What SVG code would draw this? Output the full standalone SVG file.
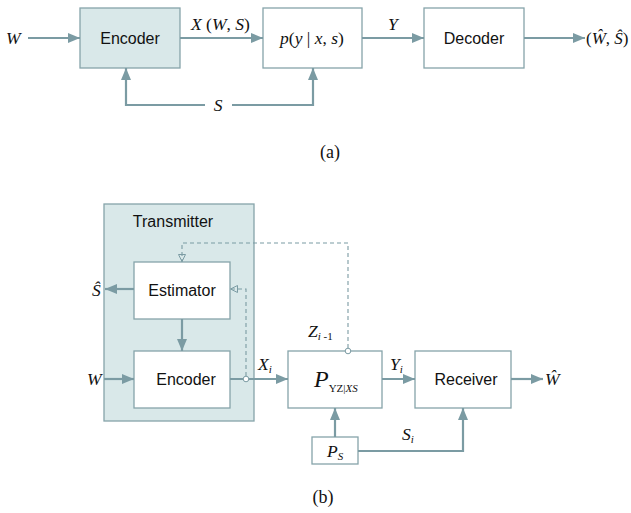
<svg xmlns="http://www.w3.org/2000/svg" width="631" height="513" viewBox="0 0 631 513">
<style>
.box{fill:#ffffff;stroke:#86a4aa;stroke-width:1.3}
.shade{fill:#d9e8e9;stroke:#86a4aa;stroke-width:1.3}
.ln{fill:none;stroke:#7b9ba3;stroke-width:2.2}
.dash{fill:none;stroke:#7b9ba3;stroke-width:1.1;stroke-dasharray:4,3}
.sans{font-family:"Liberation Sans",Arial,sans-serif;font-size:16px;fill:#111}
.m{font-family:"Liberation Serif","Times New Roman",serif;font-style:italic;font-size:17.5px;fill:#111}
.r{font-family:"Liberation Serif","Times New Roman",serif;font-size:18px;fill:#111}
.sub{font-size:11px}
.big{font-size:24px}
</style>
<defs>
<marker id="ah" viewBox="0 0 12 10" refX="12" refY="5" markerWidth="12" markerHeight="10" markerUnits="userSpaceOnUse" orient="auto">
<path d="M0,0 L12,5 L0,10 Z" fill="#7b9ba3"/>
</marker>
<marker id="oh" viewBox="0 0 8 8" refX="8" refY="4" markerWidth="8" markerHeight="8" markerUnits="userSpaceOnUse" orient="auto">
<path d="M0.5,0.5 L7.5,4 L0.5,7.5 Z" fill="none" stroke="#7b9ba3" stroke-width="1"/>
</marker>
</defs>

<!-- (a) -->
<g id="a-encoder"><rect class="shade" x="80" y="8" width="100" height="60"/><text class="sans" x="130" y="44" text-anchor="middle">Encoder</text></g>
<g id="a-channel"><rect class="box" x="263" y="8" width="99" height="60"/><text class="m" x="312" y="44" text-anchor="middle">p<tspan font-style="normal">(</tspan>y<tspan font-style="normal"> | </tspan>x<tspan font-style="normal">, </tspan>s<tspan font-style="normal">)</tspan></text></g>
<g id="a-decoder"><rect class="box" x="424" y="8" width="100" height="60"/><text class="sans" x="474" y="44" text-anchor="middle">Decoder</text></g>
<g id="a-labels">
<text class="m" x="6" y="44">W</text>
<text class="m" x="191" y="30">X<tspan font-style="normal"> (</tspan>W<tspan font-style="normal">, </tspan>S<tspan font-style="normal">)</tspan></text>
<text class="m" x="388" y="30">Y</text>
<text class="m" x="218" y="111" text-anchor="middle">S</text>
<text class="r" x="586" y="44" style="font-size:17px">(<tspan font-style="italic">Ŵ</tspan>, <tspan font-style="italic">Ŝ</tspan>)</text>
<text class="r" x="330" y="158" text-anchor="middle">(a)</text>
</g>

<!-- (b) -->
<g id="transmitter"><rect class="shade" x="104" y="204" width="150" height="217"/><text class="sans" x="173" y="227" text-anchor="middle">Transmitter</text></g>
<g id="estimator"><rect class="box" x="134" y="262" width="96" height="57"/><text class="sans" x="182" y="296" text-anchor="middle">Estimator</text></g>
<g id="b-encoder"><rect class="box" x="134" y="351" width="96" height="57"/><text class="sans" x="186" y="385" text-anchor="middle">Encoder</text></g>
<g id="channel"><rect class="box" x="288" y="351" width="94" height="57"/><text class="m big" x="314" y="387">P<tspan class="sub" dy="5" font-style="normal">YZ|</tspan><tspan class="sub" font-style="italic">XS</tspan></text></g>
<g id="receiver"><rect class="box" x="415" y="351" width="96" height="57"/><text class="sans" x="466" y="385" text-anchor="middle">Receiver</text></g>
<g id="ps"><rect class="box" x="312" y="437" width="46" height="27"/><text class="m" x="327" y="457">P<tspan class="sub" dy="3">S</tspan></text></g>
<g id="b-labels">
<text class="m" x="92" y="296">Ŝ</text>
<text class="m" x="87" y="385">W</text>
<text class="m" x="258" y="370">X<tspan class="sub" dy="3">i</tspan></text>
<text class="m" x="308" y="337">Z<tspan class="sub" dy="3">i</tspan><tspan class="sub" font-style="normal"> -1</tspan></text>
<text class="m" x="390" y="370">Y<tspan class="sub" dy="3">i</tspan></text>
<text class="m" x="402" y="440">S<tspan class="sub" dy="3">i</tspan></text>
<text class="m" x="545" y="385">Ŵ</text>
<text class="r" x="323" y="503" text-anchor="middle">(b)</text>
</g>

<g id="connectors">
<!-- (a) -->
<line class="ln" x1="28" y1="38" x2="80" y2="38" marker-end="url(#ah)"/>
<line class="ln" x1="180" y1="38" x2="263" y2="38" marker-end="url(#ah)"/>
<line class="ln" x1="362" y1="38" x2="424" y2="38" marker-end="url(#ah)"/>
<line class="ln" x1="524" y1="38" x2="585" y2="38" marker-end="url(#ah)"/>
<polyline class="ln" points="205,105 126,105 126,68" marker-end="url(#ah)"/>
<polyline class="ln" points="232,105 313,105 313,68" marker-end="url(#ah)"/>
<!-- (b) -->
<line class="ln" x1="134" y1="289" x2="105" y2="289" marker-end="url(#ah)"/>
<line class="ln" x1="182" y1="319" x2="182" y2="351" marker-end="url(#ah)"/>
<line class="ln" x1="104" y1="379" x2="134" y2="379" marker-end="url(#ah)"/>
<line class="ln" x1="230" y1="379" x2="288" y2="379" marker-end="url(#ah)"/>
<line class="ln" x1="382" y1="379" x2="415" y2="379" marker-end="url(#ah)"/>
<line class="ln" x1="511" y1="379" x2="543" y2="379" marker-end="url(#ah)"/>
<line class="ln" x1="335" y1="437" x2="335" y2="408" marker-end="url(#ah)"/>
<polyline class="ln" points="358,451 463,451 463,408" marker-end="url(#ah)"/>
<polyline class="dash" points="246,376 246,289 230,289" marker-end="url(#oh)"/>
<polyline class="dash" points="348,348 348,243 182,243 182,262" marker-end="url(#oh)"/>
<circle cx="246" cy="379" r="2.8" fill="#ffffff" stroke="#7b9ba3" stroke-width="1"/>
<circle cx="348" cy="351" r="2.8" fill="#ffffff" stroke="#7b9ba3" stroke-width="1"/>
</g>
</svg>
